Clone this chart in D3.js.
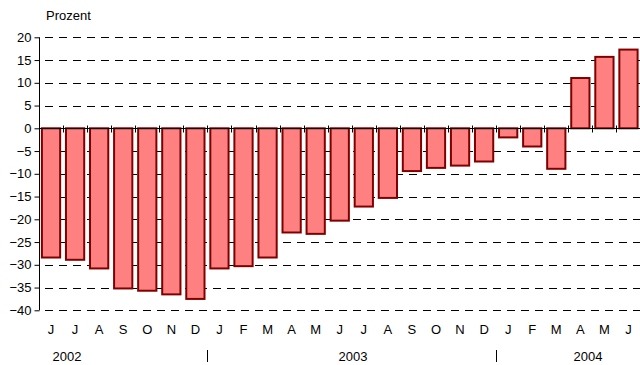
<!DOCTYPE html>
<html><head><meta charset="utf-8">
<script src="https://cdn.jsdelivr.net/npm/d3@7"></script>
<style>body{margin:0;background:#fff}svg{display:block}text{font-family:"Liberation Sans",Arial,sans-serif;fill:#000}</style>
</head><body><svg id="c" width="640" height="365"></svg>
<script>
const months = ["J","J","A","S","O","N","D","J","F","M","A","M","J","J","A","S","O","N","D","J","F","M","A","M","J"];
const values = [-28.4,-28.9,-30.8,-35.2,-35.7,-36.5,-37.5,-30.8,-30.3,-28.4,-22.9,-23.2,-20.3,-17.2,-15.3,-9.4,-8.7,-8.2,-7.3,-2.0,-4.0,-8.9,11.05,15.7,17.3];
const yTicks = [20,15,10,5,0,-5,-10,-15,-20,-25,-30,-35,-40];
const years = [{label:"2002",from:0,to:7},{label:"2003",from:7,to:19},{label:"2004",from:19,to:25}];
const yLabel = "Prozent";

(function(){
const svg = d3.select("#c");
const pL = 39, pR = 640.5, pT = 37.3, pB = 310.3;
const idx = d3.range(months.length);
const x = d3.scaleBand().domain(idx).range([pL, pR]);
const y = d3.scaleLinear().domain([-40,20]).range([pB, pT]);
const bw = x.step();
const bandStart = i => x(i);

svg.append("g").selectAll("line").data(yTicks.filter(d=>d!==0)).join("line")
  .attr("x1", pL).attr("x2", pR).attr("y1", d=>Math.round(y(d))+0.5).attr("y2", d=>Math.round(y(d))+0.5)
  .attr("stroke","#000").attr("stroke-width",1).attr("stroke-dasharray","8,6").attr("stroke-dashoffset",-6);

const y0 = Math.round(y(0))+0.5;
svg.append("g").selectAll("line").data(d3.range(1, months.length)).join("line")
  .attr("x1", d=>Math.round(bandStart(d))+0.5).attr("x2", d=>Math.round(bandStart(d))+0.5)
  .attr("y1", y0-3).attr("y2", y0+4).attr("stroke","#000");

svg.append("g").selectAll("rect").data(idx).join("rect")
  .attr("x", i=>bandStart(i)+bw*0.1+0.5)
  .attr("width", bw*0.8-1)
  .attr("y", i=>Math.min(y(values[i]), y(0)))
  .attr("height", i=>Math.abs(y(values[i])-y(0)))
  .attr("fill","#ff8080").attr("stroke","#800000").attr("stroke-width",2);

svg.append("line").attr("x1",pL).attr("x2",pR).attr("y1",y0).attr("y2",y0).attr("stroke","#000");

const yAxis = d3.axisLeft(y).tickValues(yTicks).tickSize(5).tickPadding(3).tickFormat(d3.format("d"));
const gy = svg.append("g").attr("transform",`translate(${pL+0.5},0)`).call(yAxis);
gy.select(".domain").attr("stroke","#000").attr("d",`M0,${pT}V${pB}`);
gy.selectAll(".tick line").attr("stroke","#000");
gy.selectAll(".tick text").attr("font-size",13).attr("font-family","Liberation Sans, Arial, sans-serif").attr("fill","#000");

svg.append("g").selectAll("text").data(idx).join("text")
  .attr("x", i=>bandStart(i)+bw/2).attr("y", 334).attr("text-anchor","middle").attr("font-size",13)
  .text(i=>months[i]);

svg.append("g").selectAll("text").data(years).join("text")
  .attr("x", d=>d.label==="2002"?67:(d.label==="2003"?353:588)).attr("y", 361).attr("text-anchor","middle").attr("font-size",13)
  .text(d=>d.label);
svg.append("g").selectAll("line").data(years.slice(1)).join("line")
  .attr("x1", d=>Math.round(bandStart(d.from))+0.5).attr("x2", d=>Math.round(bandStart(d.from))+0.5)
  .attr("y1", 350).attr("y2", 362).attr("stroke","#000");

svg.append("text").attr("x",46).attr("y",20).attr("font-size",13).text(yLabel);
})();
</script></body></html>
